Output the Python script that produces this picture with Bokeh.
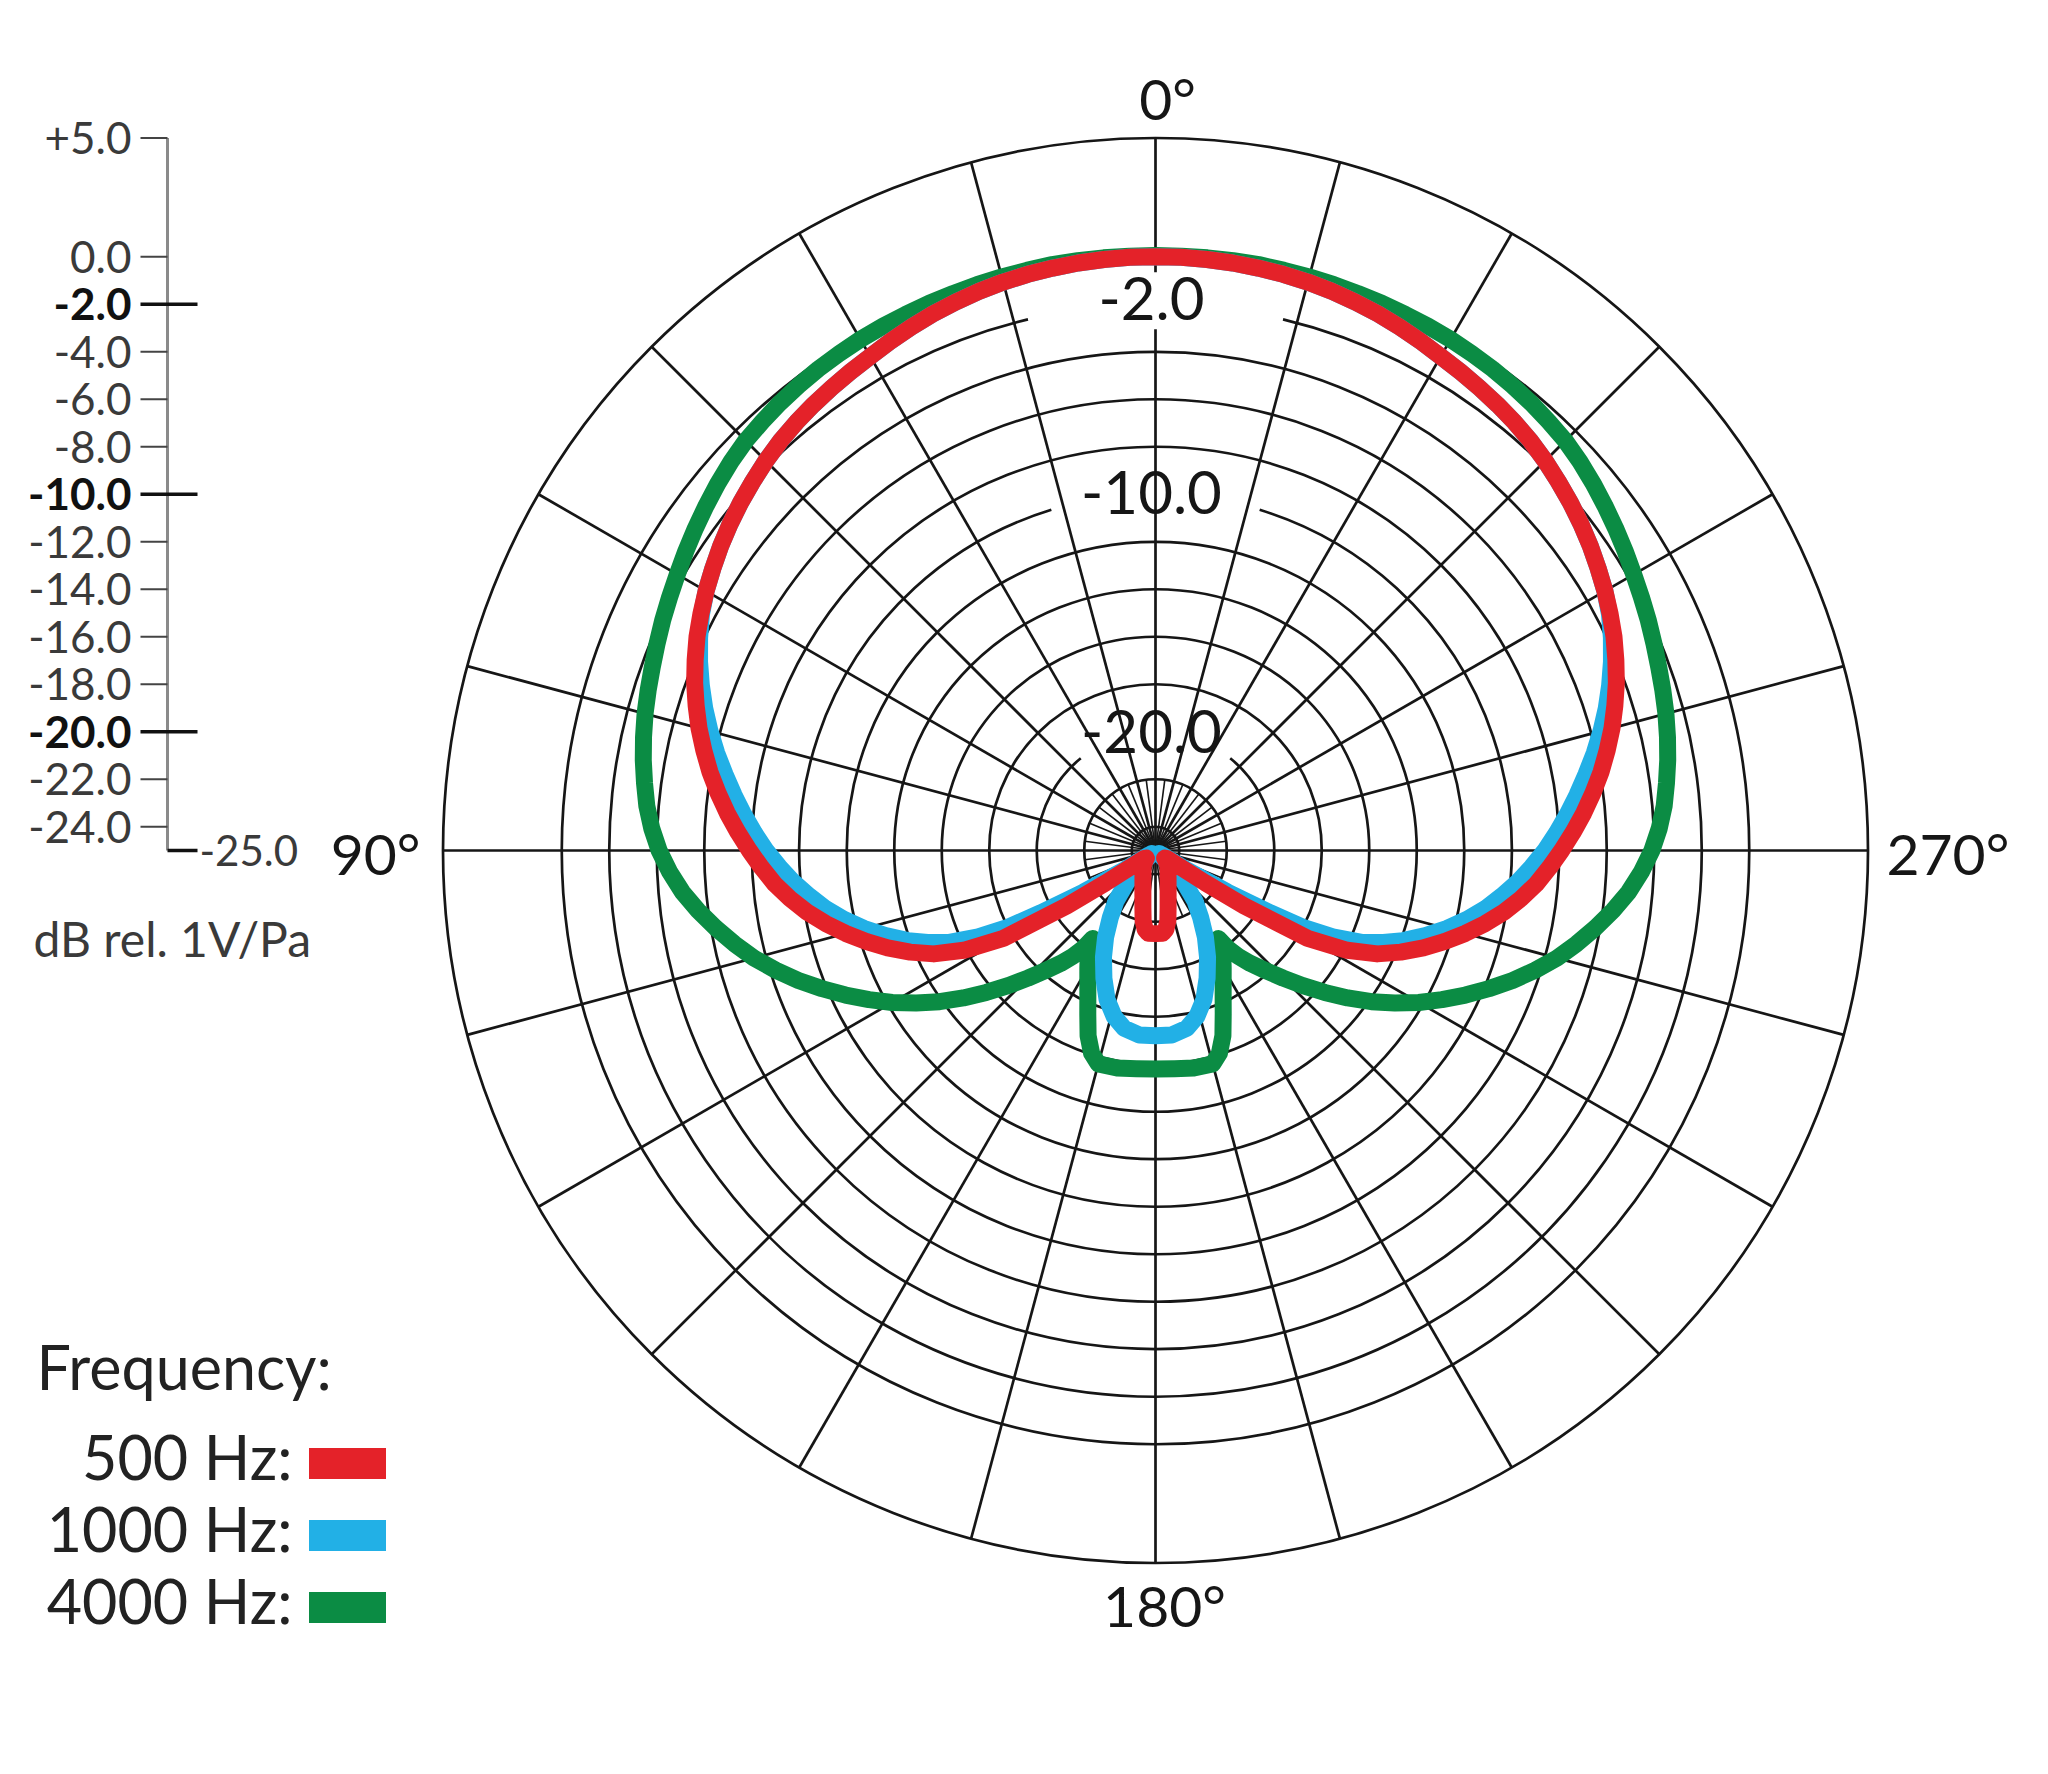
import numpy as np
from bokeh.plotting import figure
from bokeh.models import Range1d
from bokeh.embed import file_html
from bokeh.resources import INLINE
from bokeh.core.properties import value

# ---------------- data ----------------
series_names = ["500 Hz", "1000 Hz", "4000 Hz"]
series_colors = ["#E42229", "#22B0E6", "#0B8C44"]

# half curves, angle 0..180 deg (0 = front/top, 90 = left); the pattern is symmetric
angles_500 = [0, 2.5, 5, 7.5, 10, 12.5, 15, 17.5, 20, 22.5, 25, 27.5, 30, 32.5, 35, 37.5,
              40, 42.5, 45, 47.5, 50, 52.5, 55, 57.5, 60, 62.5, 65, 67.5, 70, 72.5, 75,
              77.5, 80, 82.5, 85, 87.5, 90, 92.5, 95, 97.5, 100, 102.5, 105, 107.5, 110,
              112.5, 115, 117.5, 120, 122, 123, 125, 130, 140, 150, 155, 160, 165, 167.5,
              170, 172.5, 175, 180]
db_500 = [0.0, 0.0, -0.02, -0.05, -0.1, -0.15, -0.22, -0.31, -0.42, -0.54, -0.68, -0.83,
          -0.98, -1.1, -1.22, -1.34, -1.47, -1.62, -1.8, -2.0, -2.2, -2.42, -2.65, -2.9,
          -3.15, -3.42, -3.7, -4.02, -4.35, -4.72, -5.1, -5.52, -5.95, -6.42, -6.9, -7.4,
          -7.9, -8.4, -8.9, -9.48, -10.1, -10.78, -11.5, -12.25, -13.0, -13.82, -14.7,
          -15.9, -17.6, -20.6, -22.5, -24.4, -24.5, -24.2, -23.95, -23.75, -23.45, -22.95,
          -22.55, -22.0, -21.65, -21.5, -21.5]

angles_1000 = [0, 2.5, 5, 7.5, 10, 12.5, 15, 17.5, 20, 22.5, 25, 27.5, 30, 32.5, 35, 37.5,
               40, 42.5, 45, 47.5, 50, 52.5, 55, 57.5, 60, 62.5, 65, 67.5, 70, 72.5, 75,
               77.5, 80, 82.5, 85, 87.5, 90, 92.5, 95, 97.5, 100, 102.5, 105, 107.5, 110,
               112, 114, 116, 117.5, 118.5, 120, 122, 125, 130, 135, 138, 142, 146, 150,
               154, 158, 162, 166, 170, 175, 180]
db_1000 = [0.0, 0.0, -0.02, -0.05, -0.1, -0.15, -0.22, -0.31, -0.42, -0.54, -0.68, -0.83,
           -0.98, -1.1, -1.22, -1.34, -1.47, -1.62, -1.8, -2.0, -2.2, -2.42, -2.65, -2.9,
           -3.15, -3.45, -3.82, -4.22, -4.65, -5.1, -5.58, -6.08, -6.6, -7.1, -7.6, -8.1,
           -8.6, -9.15, -9.7, -10.3, -10.9, -11.58, -12.3, -13.08, -13.9, -14.65, -15.5,
           -16.7, -18.0, -19.5, -21.5, -23.5, -24.7, -24.8, -24.0, -23.2, -22.3, -21.6,
           -20.8, -20.0, -19.2, -18.4, -17.8, -17.4, -17.2, -17.2]

angles_4000 = [0, 2.5, 5, 7.5, 10, 12.5, 15, 17.5, 20, 22.5, 25, 27.5, 30, 32.5, 35, 37.5,
               40, 42.5, 45, 47.5, 50, 52.5, 55, 57.5, 60, 62.5, 65, 67.5, 70, 72.5, 75,
               77.5, 80, 82.5, 85, 87.5, 90, 92.5, 95, 97.5, 100, 102.5, 105, 107.5, 110,
               112.5, 115, 117.5, 120, 122.5, 125, 127.5, 130, 132.5, 135, 137.5, 140, 142,
               143.5, 144.5, 145.5, 147, 150, 152.5, 155, 157.5, 160, 162.5, 165, 170, 175,
               180]
db_4000 = [0.05, 0.05, 0.05, 0.05, 0.05, 0.02, 0.0, -0.02, -0.05, -0.07, -0.1, -0.12,
           -0.15, -0.2, -0.25, -0.32, -0.4, -0.5, -0.6, -0.76, -0.95, -1.15, -1.35, -1.55,
           -1.75, -1.93, -2.1, -2.28, -2.45, -2.6, -2.75, -2.92, -3.1, -3.3, -3.5, -3.77,
           -4.1, -4.52, -5.0, -5.58, -6.2, -6.84, -7.5, -8.24, -9.0, -9.8, -10.6, -11.4,
           -12.2, -13.05, -13.9, -14.8, -15.7, -16.58, -17.4, -18.15, -18.8, -19.35, -19.85,
           -20.45, -20.15, -19.8, -19.3, -18.83, -18.26, -17.55, -16.7, -16.05, -15.7, -15.7,
           -15.78, -15.8]

series_angles = [angles_500, angles_1000, angles_4000]
series_db = [db_500, db_1000, db_4000]

db_min = -25.0
db_max = 5.0
ring_db = [-24, -22, -20, -18, -16, -14, -12, -10, -8, -6, -4, -2, 0, 5]
polar_label_db = [-2, -10, -20]
polar_label_text = ["-2.0", "-10.0", "-20.0"]
ring_gap_deg = {-2: 13.5, -10: 17.0, -20: 39.0}
spoke_step_major = 15
spoke_step_minor = 7.5
minor_spoke_db = -22

angle_label_text = ["0\u00b0", "90\u00b0", "180\u00b0", "270\u00b0"]

scale_ticks = [5, 0, -2, -4, -6, -8, -10, -12, -14, -16, -18, -20, -22, -24]
scale_labels = ["+5.0", "0.0", "-2.0", "-4.0", "-6.0", "-8.0", "-10.0", "-12.0",
                "-14.0", "-16.0", "-18.0", "-20.0", "-22.0", "-24.0"]
scale_bold = [-2, -10, -20]
scale_unit = "dB rel. 1V/Pa"
legend_title = "Frequency:"
legend_labels = ["500 Hz:", "1000 Hz:", "4000 Hz:"]

# ---------------- geometry ----------------
K = 23.75            # reference pixels per dB
CX, CY = 1155, 850   # polar centre in reference pixels
W, H = 2032, 1758


def px_x(X):
    return (X - CX) / K


def px_y(Y):
    return (CY - Y) / K


FONT = value("Lato")
INK = "#161616"

p = figure(width=W, height=H, output_backend="svg", toolbar_location=None,
           x_range=Range1d(px_x(0), px_x(W)), y_range=Range1d(px_y(H), px_y(0)),
           min_border=0)
p.axis.visible = False
p.grid.visible = False
p.outline_line_color = None
p.background_fill_color = "white"
p.border_fill_color = "white"


def polar_xy(theta_deg, db):
    r = np.clip(np.asarray(db, dtype=float) - db_min, 0, None)
    t = np.radians(np.asarray(theta_deg, dtype=float))
    return -r * np.sin(t), r * np.cos(t)


# spokes
maj = np.arange(0, 360, spoke_step_major)
mx, my = polar_xy(maj, np.full(len(maj), db_max))
p.segment(x0=0, y0=0, x1=mx, y1=my, line_color=INK, line_width=2.7)
mn = np.arange(spoke_step_minor, 360, spoke_step_major)
nx, ny = polar_xy(mn, np.full(len(mn), minor_spoke_db))
p.segment(x0=0, y0=0, x1=nx, y1=ny, line_color=INK, line_width=1.6)

# rings
for d in ring_db:
    r = d - db_min
    g = ring_gap_deg.get(d, 0.0)
    if g > 0:
        p.arc(x=0, y=0, radius=r, start_angle=np.radians(90 + g),
              end_angle=np.radians(450 - g), line_color=INK, line_width=2.7)
    else:
        p.arc(x=0, y=0, radius=r, start_angle=0, end_angle=2 * np.pi,
              line_color=INK, line_width=2.7)

# white box behind the -2.0 label (covers the 0 deg spoke there)
p.rect(x=[0], y=[polar_label_db[0] - db_min + 0.15], width=5.2, height=2.4,
       fill_color="white", line_color=None)

# curves (red drawn last, on top)
for ang, db, col in zip(reversed(series_angles), reversed(series_db), reversed(series_colors)):
    a = list(ang) + [360 - v for v in reversed(ang[:-1])]
    d = list(db) + list(reversed(db[:-1]))
    x, y = polar_xy(a, d)
    p.line(x, y, line_color=col, line_width=17, line_join="round", line_cap="round")

# polar ring labels
p.text(x=[px_x(1151)] * 3, y=[v - db_min for v in polar_label_db], text=polar_label_text,
       text_font=FONT, text_font_size="60px", text_color=INK,
       text_align="center", text_baseline="middle", y_offset=[-6, -2, 0])

# angle labels
p.text(x=[px_x(1167)], y=[px_y(97)], text=[angle_label_text[0]], text_font=FONT,
       text_font_size="57px", text_color=INK, text_align="center", text_baseline="middle")
p.text(x=[px_x(420)], y=[px_y(852)], text=[angle_label_text[1]], text_font=FONT,
       text_font_size="57px", text_color=INK, text_align="right", text_baseline="middle")
p.text(x=[px_x(1164)], y=[px_y(1604)], text=[angle_label_text[2]], text_font=FONT,
       text_font_size="57px", text_color=INK, text_align="center", text_baseline="middle")
p.text(x=[px_x(1886)], y=[px_y(852)], text=[angle_label_text[3]], text_font=FONT,
       text_font_size="57px", text_color=INK, text_align="left", text_baseline="middle")

# left dB scale (same radial scale as the polar grid)
SX = px_x(167)
p.segment(x0=[SX], y0=[0], x1=[SX], y1=[db_max - db_min], line_color="#8a8a8a", line_width=3)
reg = [t for t in scale_ticks if t not in scale_bold]
p.segment(x0=[px_x(140)] * len(reg), y0=[t - db_min for t in reg],
          x1=[SX] * len(reg), y1=[t - db_min for t in reg], line_color="#444444", line_width=2)
p.segment(x0=[px_x(140)] * len(scale_bold), y0=[t - db_min for t in scale_bold],
          x1=[px_x(197)] * len(scale_bold), y1=[t - db_min for t in scale_bold],
          line_color="#111111", line_width=3.5)
p.segment(x0=[SX], y0=[0], x1=[px_x(197)], y1=[0], line_color="#111111", line_width=3.5)

reg_lab = [l for t, l in zip(scale_ticks, scale_labels) if t not in scale_bold]
bold_lab = [l for t, l in zip(scale_ticks, scale_labels) if t in scale_bold]
p.text(x=[px_x(131)] * len(reg), y=[t - db_min for t in reg], text=reg_lab, text_font=FONT,
       text_font_size="44px", text_color="#3a3a3a", text_align="right", text_baseline="middle")
p.text(x=[px_x(131)] * len(scale_bold), y=[t - db_min for t in scale_bold], text=bold_lab,
       text_font=FONT, text_font_size="44px", text_font_style="bold", text_color="#111111",
       text_align="right", text_baseline="middle")
p.text(x=[px_x(199)], y=[0], text=["%.1f" % db_min], text_font=FONT, text_font_size="42px",
       text_color="#3a3a3a", text_align="left", text_baseline="middle")
p.text(x=[px_x(33)], y=[px_y(938)], text=[scale_unit], text_font=FONT, text_font_size="48px",
       text_color="#3a3a3a", text_align="left", text_baseline="middle")

# legend
p.text(x=[px_x(36)], y=[px_y(1366)], text=[legend_title], text_font=FONT,
       text_font_size="61px", text_color="#222222", text_align="left", text_baseline="middle")
leg_y = [px_y(v) for v in (1456, 1528, 1600)]
p.text(x=[px_x(292)] * 3, y=leg_y, text=legend_labels, text_font=FONT, text_font_size="61px",
       text_color="#222222", text_align="right", text_baseline="middle")
p.rect(x=[px_x(347)] * 3, y=[v - 7 / K for v in leg_y], width=77 / K, height=31 / K,
       fill_color=series_colors, line_color=None)

open("out.html", "w").write(file_html(p, INLINE))
